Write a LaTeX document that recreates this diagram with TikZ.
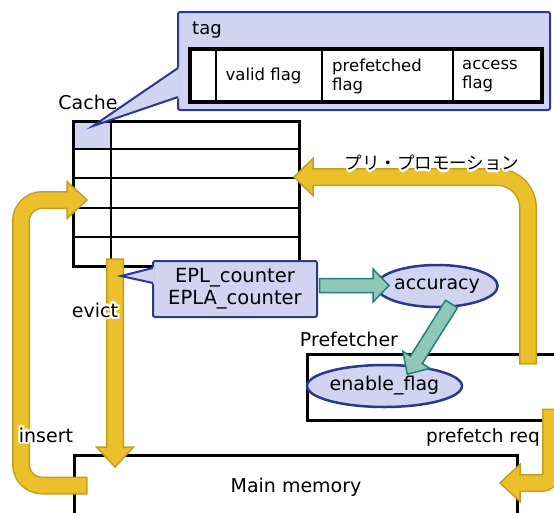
\documentclass[tikz,border=0pt]{standalone}
\usepackage{fontspec}
\setmainfont{DejaVu Sans}
\newfontfamily\jpfont{Noto Sans CJK JP}
\usetikzlibrary{calc,shapes.geometric}

\definecolor{lav}{RGB}{208,212,240}
\definecolor{navy}{RGB}{43,57,140}
\definecolor{gold}{RGB}{235,192,42}
\definecolor{goldedge}{RGB}{195,158,30}
\definecolor{tealfill}{RGB}{144,200,184}
\definecolor{tealedge}{RGB}{31,127,123}

\tikzset{
  txt/.style={inner sep=0pt, font=\fontsize{19}{22}\selectfont},
  smalltxt/.style={inner sep=0pt, font=\fontsize{16.5}{19}\selectfont, align=left},
  blockbox/.style={draw=black, line width=3pt, inner sep=0pt},
  callout/.style={draw=navy, fill=lav, line width=2pt, rounded corners=2pt, inner sep=0pt},
  oval/.style={ellipse, draw=navy, fill=lav, line width=2.5pt, inner sep=0pt,
               font=\fontsize{19}{22}\selectfont},
  ybord/.style={draw=goldedge, line width=18pt},
  yfill/.style={draw=gold, line width=15pt},
  yhead/.style={fill=gold, draw=goldedge, line width=1.5pt, line join=miter},
  tpoly/.style={fill=tealfill, draw=tealedge, line width=1.5pt, line join=miter},
}

% straight block arrow from coordinate #2 to tip #3
% #4 shaft half-width, #5 head half-width, #6 head length
\newcommand\fatarrow[6]{%
  \coordinate (fatC) at ($(#3)!#6!(#2)$);
  \draw[#1] ($(#2)!#4!90:(#3)$) -- ($(fatC)!#4!90:(#3)$) -- ($(fatC)!#5!90:(#3)$) -- (#3)
    -- ($(fatC)!#5!-90:(#3)$) -- ($(fatC)!#4!-90:(#3)$) -- ($(#2)!#4!-90:(#3)$) -- cycle;
}

% bent block arrow through #2 (corner radius #1); head base #3, tip #4
\newcommand\bentarrow[4]{%
  \draw[ybord, rounded corners=#1, shorten <=-1.5pt] #2 -- (#3);
  \draw[yhead] ($(#3)!18.5pt!90:(#4)$) -- (#4) -- ($(#3)!18.5pt!-90:(#4)$) -- cycle;
  \draw[yfill, rounded corners=#1, shorten >=-3pt] #2 -- (#3);
}

% label with a white halo around the glyphs
\newcommand\halolabel[4]{%
  \foreach \ang in {0,30,...,330}
    \node[inner sep=0pt, font=#3, text=white] (#1-h\ang) at ($(#2)+(\ang:2.3pt)$) {#4};
  \node[inner sep=0pt, font=#3] (#1) at (#2) {#4};
}

\begin{document}
\begin{tikzpicture}[x=1pt,y=-1pt]
\useasboundingbox (0,0) rectangle (554,512);
\clip (0,0) rectangle (554,512);

% ---- cache array ----
\fill[lav] (73.5,121) rectangle (111,148.5);
\draw[line width=2pt] (111,121) -- (111,266);
\foreach \yy in {148.5,178,207.5,237}
  \draw[line width=2pt] (73.5,\yy) -- (299,\yy);
\node[blockbox, minimum width=225.5pt, minimum height=145pt] (cache) at (186.25,193.5) {};
\node[txt] (cachelbl) at (88,102) {Cache};

% ---- main memory and prefetcher ----
\node[blockbox, minimum width=442.5pt, minimum height=85pt] (mem) at (295.75,497.5) {};
\node[txt] (memlbl) at (296,487) {Main memory};
\node[blockbox, minimum width=262.5pt, minimum height=66pt] (pf) at (438.75,387) {};
\node[txt] (pflbl) at (349,339) {Prefetcher};

% ---- yellow data-movement arrows ----
\coordinate (ins0) at (86,485.5);
\coordinate (ins1) at (21,485.5);
\coordinate (ins2) at (21,200);
\coordinate (ins3) at (67,200);
\coordinate (ins4) at (87,200);
\bentarrow{21pt}{(ins0) -- (ins1) -- (ins2)}{ins3}{ins4}

\coordinate (ev0) at (115,259);
\coordinate (ev1) at (115,467);
\fatarrow{yhead}{ev0}{ev1}{8.25pt}{18.5pt}{20pt}

\coordinate (pr0) at (528,363);
\coordinate (pr1) at (528,177);
\coordinate (pr2) at (313,177);
\coordinate (pr3) at (294,177);
\bentarrow{31pt}{(pr0) -- (pr1)}{pr2}{pr3}

\coordinate (rq0) at (551,410);
\coordinate (rq1) at (551,483);
\coordinate (rq2) at (520,483);
\coordinate (rq3) at (500,483);
\bentarrow{9pt}{(rq0) -- (rq1)}{rq2}{rq3}

% ---- tag callout ----
\node[callout, minimum width=372pt, minimum height=98pt] (tagbox) at (364,61) {};
\coordinate (tagtip) at (93,126);
\fill[lav] (179.5,67) -- (tagtip) -- (179.5,98) -- cycle;
\draw[navy, line width=2pt, line join=miter] (178,68) -- (tagtip) -- (178,97);
\node[inner sep=0pt, font=\fontsize{18}{20}\selectfont] (taglbl) at (207,30) {tag};
\node[draw=black, fill=white, line width=3.5pt, inner sep=0pt,
      minimum width=352pt, minimum height=53pt] (tagtbl) at (366,75.5) {};
\foreach \xx in {216,322,453}
  \draw[line width=1.5pt] (\xx,49) -- (\xx,102);
\node[smalltxt] (valid) at (263.5,76) {valid flag};
\node[smalltxt, anchor=west] (pref) at (332,76) {prefetched\\flag};
\node[smalltxt, anchor=west] (access) at (462,76) {access\\flag};

% ---- counter callout ----
\node[callout, minimum width=164pt, minimum height=56pt, align=center,
      font=\fontsize{19.5}{22}\selectfont] (epl) at (235,289) {EPL\_counter\\EPLA\_counter};
\coordinate (epltip) at (121,276);
\fill[lav] (154.5,267) -- (epltip) -- (154.5,284) -- cycle;
\draw[navy, line width=2pt, line join=miter] (153,268) -- (epltip) -- (153,283);

% ---- prefetcher state ----
\node[oval, minimum width=120pt, minimum height=42pt] (acc) at (437,286) {accuracy};
\node[oval, minimum width=133pt, minimum height=42pt] (enable) at (384.5,386) {enable\_flag};

\coordinate (t1s) at ($(epl.east)+(1.5,-3.5)$);
\coordinate (t1e) at (389,285.5);
\fatarrow{tpoly}{t1s}{t1e}{7pt}{16.5pt}{16pt}
\coordinate (t2s) at (451.5,304);
\coordinate (t2e) at (407.3,374.2);
\fatarrow{tpoly}{t2s}{t2e}{7pt}{16pt}{17pt}

% ---- arrow labels ----
\halolabel{evictlbl}{95,310}{\fontsize{19}{22}\selectfont}{evict}
\halolabel{insertlbl}{46,435}{\fontsize{19}{22}\selectfont}{insert}
\halolabel{reqlbl}{483,437}{\fontsize{18.5}{22}\selectfont}{prefetch req}
\halolabel{prolbl}{432,163}{\jpfont\fontsize{17.5}{20}\selectfont}{プリ・プロモーション}
\end{tikzpicture}
\end{document}
